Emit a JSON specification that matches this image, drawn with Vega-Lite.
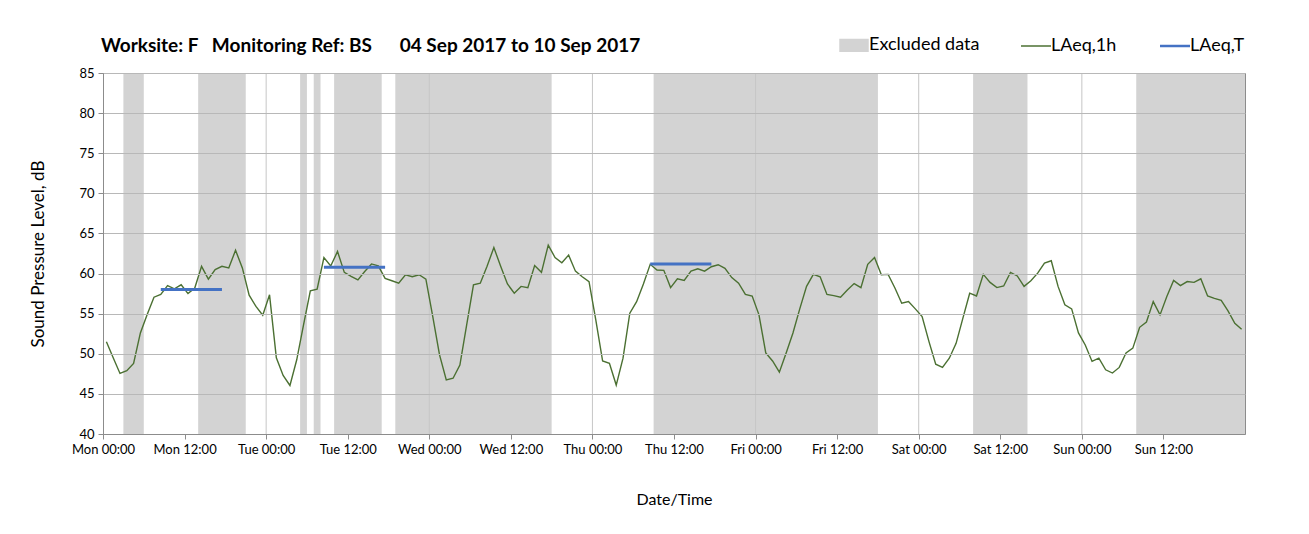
{
  "$schema": "https://vega.github.io/schema/vega-lite/v6.json",
  "width": 1142,
  "height": 361,
  "autosize": {"type": "none"},
  "padding": {"left": 103, "top": 73, "right": 64, "bottom": 100},
  "background": "white",
  "config": {
    "font": "Lato",
    "view": {"stroke": "#8c8c8c", "strokeWidth": 1},
    "legend": {
      "orient": "none",
      "legendX": 742,
      "legendY": -37,
      "direction": "horizontal",
      "symbolSize": 900,
      "labelFontSize": 18,
      "labelColor": "#000000",
      "columnPadding": 38,
      "labelOffset": 6
    }
  },
  "title": {
    "text": "Worksite: F\u00a0\u00a0\u00a0Monitoring Ref: BS\u00a0\u00a0\u00a0\u00a0\u00a0\u00a004 Sep 2017 to 10 Sep 2017",
    "anchor": "start",
    "fontSize": 19,
    "fontWeight": "bold",
    "color": "#000000",
    "offset": 0,
    "dx": 71,
    "dy": 20
  },
  "datasets": {
    "excluded": [
      {"start": "2017-09-04T03:00", "end": "2017-09-04T06:00"},
      {"start": "2017-09-04T14:00", "end": "2017-09-04T21:00"},
      {"start": "2017-09-05T05:00", "end": "2017-09-05T06:00"},
      {"start": "2017-09-05T07:00", "end": "2017-09-05T08:00"},
      {"start": "2017-09-05T10:00", "end": "2017-09-05T17:00"},
      {"start": "2017-09-05T19:00", "end": "2017-09-06T18:00"},
      {"start": "2017-09-07T09:00", "end": "2017-09-08T18:00"},
      {"start": "2017-09-09T08:00", "end": "2017-09-09T16:00"},
      {"start": "2017-09-10T08:00", "end": "2017-09-11T00:00"}
    ],
    "days": [
      {"d": "2017-09-05T00:00"},
      {"d": "2017-09-06T00:00"},
      {"d": "2017-09-07T00:00"},
      {"d": "2017-09-08T00:00"},
      {"d": "2017-09-09T00:00"},
      {"d": "2017-09-10T00:00"}
    ],
    "laeqT": [
      {"start": "2017-09-04T08:30", "end": "2017-09-04T17:30", "v": 58.0},
      {"start": "2017-09-05T08:30", "end": "2017-09-05T17:30", "v": 60.8},
      {"start": "2017-09-07T08:30", "end": "2017-09-07T17:30", "v": 61.2}
    ],
    "laeq1h": [
      {"t": "2017-09-04T00:30", "v": 51.5},
      {"t": "2017-09-04T01:30", "v": 49.5},
      {"t": "2017-09-04T02:30", "v": 47.55},
      {"t": "2017-09-04T03:30", "v": 47.9},
      {"t": "2017-09-04T04:30", "v": 48.8},
      {"t": "2017-09-04T05:30", "v": 52.6},
      {"t": "2017-09-04T06:30", "v": 54.9},
      {"t": "2017-09-04T07:30", "v": 57.05},
      {"t": "2017-09-04T08:30", "v": 57.4},
      {"t": "2017-09-04T09:30", "v": 58.5},
      {"t": "2017-09-04T10:30", "v": 58.1},
      {"t": "2017-09-04T11:30", "v": 58.6},
      {"t": "2017-09-04T12:30", "v": 57.5},
      {"t": "2017-09-04T13:30", "v": 58.2},
      {"t": "2017-09-04T14:30", "v": 60.9},
      {"t": "2017-09-04T15:30", "v": 59.3},
      {"t": "2017-09-04T16:30", "v": 60.5},
      {"t": "2017-09-04T17:30", "v": 60.9},
      {"t": "2017-09-04T18:30", "v": 60.7},
      {"t": "2017-09-04T19:30", "v": 62.9},
      {"t": "2017-09-04T20:30", "v": 60.7},
      {"t": "2017-09-04T21:30", "v": 57.3},
      {"t": "2017-09-04T22:30", "v": 55.9},
      {"t": "2017-09-04T23:30", "v": 54.8},
      {"t": "2017-09-05T00:30", "v": 57.35},
      {"t": "2017-09-05T01:30", "v": 49.5},
      {"t": "2017-09-05T02:30", "v": 47.3},
      {"t": "2017-09-05T03:30", "v": 46.05},
      {"t": "2017-09-05T04:30", "v": 49.25},
      {"t": "2017-09-05T05:30", "v": 53.6},
      {"t": "2017-09-05T06:30", "v": 57.85},
      {"t": "2017-09-05T07:30", "v": 58.05},
      {"t": "2017-09-05T08:30", "v": 62.0},
      {"t": "2017-09-05T09:30", "v": 60.95},
      {"t": "2017-09-05T10:30", "v": 62.75},
      {"t": "2017-09-05T11:30", "v": 60.15},
      {"t": "2017-09-05T12:30", "v": 59.65},
      {"t": "2017-09-05T13:30", "v": 59.2},
      {"t": "2017-09-05T14:30", "v": 60.25},
      {"t": "2017-09-05T15:30", "v": 61.2},
      {"t": "2017-09-05T16:30", "v": 60.95},
      {"t": "2017-09-05T17:30", "v": 59.4},
      {"t": "2017-09-05T18:30", "v": 59.1},
      {"t": "2017-09-05T19:30", "v": 58.8},
      {"t": "2017-09-05T20:30", "v": 59.85},
      {"t": "2017-09-05T21:30", "v": 59.6},
      {"t": "2017-09-05T22:30", "v": 59.85},
      {"t": "2017-09-05T23:30", "v": 59.3},
      {"t": "2017-09-06T00:30", "v": 54.7},
      {"t": "2017-09-06T01:30", "v": 49.9},
      {"t": "2017-09-06T02:30", "v": 46.75},
      {"t": "2017-09-06T03:30", "v": 46.95},
      {"t": "2017-09-06T04:30", "v": 48.6},
      {"t": "2017-09-06T05:30", "v": 53.6},
      {"t": "2017-09-06T06:30", "v": 58.6},
      {"t": "2017-09-06T07:30", "v": 58.8},
      {"t": "2017-09-06T08:30", "v": 60.9},
      {"t": "2017-09-06T09:30", "v": 63.25},
      {"t": "2017-09-06T10:30", "v": 60.9},
      {"t": "2017-09-06T11:30", "v": 58.7},
      {"t": "2017-09-06T12:30", "v": 57.55},
      {"t": "2017-09-06T13:30", "v": 58.4},
      {"t": "2017-09-06T14:30", "v": 58.25},
      {"t": "2017-09-06T15:30", "v": 61.0},
      {"t": "2017-09-06T16:30", "v": 60.15},
      {"t": "2017-09-06T17:30", "v": 63.55},
      {"t": "2017-09-06T18:30", "v": 62.0},
      {"t": "2017-09-06T19:30", "v": 61.35},
      {"t": "2017-09-06T20:30", "v": 62.3},
      {"t": "2017-09-06T21:30", "v": 60.3},
      {"t": "2017-09-06T22:30", "v": 59.6},
      {"t": "2017-09-06T23:30", "v": 59.0},
      {"t": "2017-09-07T00:30", "v": 54.2},
      {"t": "2017-09-07T01:30", "v": 49.1},
      {"t": "2017-09-07T02:30", "v": 48.8},
      {"t": "2017-09-07T03:30", "v": 46.1},
      {"t": "2017-09-07T04:30", "v": 49.45},
      {"t": "2017-09-07T05:30", "v": 55.05},
      {"t": "2017-09-07T06:30", "v": 56.5},
      {"t": "2017-09-07T07:30", "v": 58.7},
      {"t": "2017-09-07T08:30", "v": 61.15},
      {"t": "2017-09-07T09:30", "v": 60.45},
      {"t": "2017-09-07T10:30", "v": 60.4},
      {"t": "2017-09-07T11:30", "v": 58.25},
      {"t": "2017-09-07T12:30", "v": 59.35},
      {"t": "2017-09-07T13:30", "v": 59.15},
      {"t": "2017-09-07T14:30", "v": 60.3},
      {"t": "2017-09-07T15:30", "v": 60.6},
      {"t": "2017-09-07T16:30", "v": 60.3},
      {"t": "2017-09-07T17:30", "v": 60.85},
      {"t": "2017-09-07T18:30", "v": 61.1},
      {"t": "2017-09-07T19:30", "v": 60.65},
      {"t": "2017-09-07T20:30", "v": 59.5},
      {"t": "2017-09-07T21:30", "v": 58.8},
      {"t": "2017-09-07T22:30", "v": 57.4},
      {"t": "2017-09-07T23:30", "v": 57.2},
      {"t": "2017-09-08T00:30", "v": 54.85},
      {"t": "2017-09-08T01:30", "v": 50.1},
      {"t": "2017-09-08T02:30", "v": 49.1},
      {"t": "2017-09-08T03:30", "v": 47.7},
      {"t": "2017-09-08T04:30", "v": 50.1},
      {"t": "2017-09-08T05:30", "v": 52.6},
      {"t": "2017-09-08T06:30", "v": 55.6},
      {"t": "2017-09-08T07:30", "v": 58.4},
      {"t": "2017-09-08T08:30", "v": 59.9},
      {"t": "2017-09-08T09:30", "v": 59.6},
      {"t": "2017-09-08T10:30", "v": 57.4},
      {"t": "2017-09-08T11:30", "v": 57.25},
      {"t": "2017-09-08T12:30", "v": 57.05},
      {"t": "2017-09-08T13:30", "v": 57.95},
      {"t": "2017-09-08T14:30", "v": 58.75},
      {"t": "2017-09-08T15:30", "v": 58.25},
      {"t": "2017-09-08T16:30", "v": 61.15},
      {"t": "2017-09-08T17:30", "v": 62.0},
      {"t": "2017-09-08T18:30", "v": 59.85},
      {"t": "2017-09-08T19:30", "v": 59.9},
      {"t": "2017-09-08T20:30", "v": 58.2},
      {"t": "2017-09-08T21:30", "v": 56.3},
      {"t": "2017-09-08T22:30", "v": 56.5},
      {"t": "2017-09-08T23:30", "v": 55.6},
      {"t": "2017-09-09T00:30", "v": 54.65},
      {"t": "2017-09-09T01:30", "v": 51.55},
      {"t": "2017-09-09T02:30", "v": 48.7},
      {"t": "2017-09-09T03:30", "v": 48.3},
      {"t": "2017-09-09T04:30", "v": 49.45},
      {"t": "2017-09-09T05:30", "v": 51.3},
      {"t": "2017-09-09T06:30", "v": 54.45},
      {"t": "2017-09-09T07:30", "v": 57.55},
      {"t": "2017-09-09T08:30", "v": 57.2},
      {"t": "2017-09-09T09:30", "v": 59.9},
      {"t": "2017-09-09T10:30", "v": 58.9},
      {"t": "2017-09-09T11:30", "v": 58.25},
      {"t": "2017-09-09T12:30", "v": 58.45},
      {"t": "2017-09-09T13:30", "v": 60.15},
      {"t": "2017-09-09T14:30", "v": 59.7},
      {"t": "2017-09-09T15:30", "v": 58.4},
      {"t": "2017-09-09T16:30", "v": 59.1},
      {"t": "2017-09-09T17:30", "v": 60.05},
      {"t": "2017-09-09T18:30", "v": 61.3},
      {"t": "2017-09-09T19:30", "v": 61.6},
      {"t": "2017-09-09T20:30", "v": 58.4},
      {"t": "2017-09-09T21:30", "v": 56.1},
      {"t": "2017-09-09T22:30", "v": 55.6},
      {"t": "2017-09-09T23:30", "v": 52.6},
      {"t": "2017-09-10T00:30", "v": 51.1},
      {"t": "2017-09-10T01:30", "v": 49.05},
      {"t": "2017-09-10T02:30", "v": 49.45},
      {"t": "2017-09-10T03:30", "v": 48.0},
      {"t": "2017-09-10T04:30", "v": 47.6},
      {"t": "2017-09-10T05:30", "v": 48.3},
      {"t": "2017-09-10T06:30", "v": 50.1},
      {"t": "2017-09-10T07:30", "v": 50.7},
      {"t": "2017-09-10T08:30", "v": 53.3},
      {"t": "2017-09-10T09:30", "v": 53.95},
      {"t": "2017-09-10T10:30", "v": 56.5},
      {"t": "2017-09-10T11:30", "v": 54.85},
      {"t": "2017-09-10T12:30", "v": 57.15},
      {"t": "2017-09-10T13:30", "v": 59.15},
      {"t": "2017-09-10T14:30", "v": 58.5},
      {"t": "2017-09-10T15:30", "v": 59.0},
      {"t": "2017-09-10T16:30", "v": 58.9},
      {"t": "2017-09-10T17:30", "v": 59.35},
      {"t": "2017-09-10T18:30", "v": 57.2},
      {"t": "2017-09-10T19:30", "v": 56.9},
      {"t": "2017-09-10T20:30", "v": 56.65},
      {"t": "2017-09-10T21:30", "v": 55.35},
      {"t": "2017-09-10T22:30", "v": 53.8},
      {"t": "2017-09-10T23:30", "v": 53.05}
    ]
  },
  "layer": [
    {
      "data": {"name": "excluded"},
      "mark": {"type": "rect"},
      "encoding": {
        "x": {
          "field": "start",
          "type": "temporal",
          "scale": {"domain": [{"year": 2017, "month": 9, "date": 4, "hours": 0}, {"year": 2017, "month": 9, "date": 11, "hours": 0}]},
          "axis": {
            "title": "Date/Time",
            "values": [
              {"year": 2017, "month": 9, "date": 4, "hours": 0},
              {"year": 2017, "month": 9, "date": 4, "hours": 12},
              {"year": 2017, "month": 9, "date": 5, "hours": 0},
              {"year": 2017, "month": 9, "date": 5, "hours": 12},
              {"year": 2017, "month": 9, "date": 6, "hours": 0},
              {"year": 2017, "month": 9, "date": 6, "hours": 12},
              {"year": 2017, "month": 9, "date": 7, "hours": 0},
              {"year": 2017, "month": 9, "date": 7, "hours": 12},
              {"year": 2017, "month": 9, "date": 8, "hours": 0},
              {"year": 2017, "month": 9, "date": 8, "hours": 12},
              {"year": 2017, "month": 9, "date": 9, "hours": 0},
              {"year": 2017, "month": 9, "date": 9, "hours": 12},
              {"year": 2017, "month": 9, "date": 10, "hours": 0},
              {"year": 2017, "month": 9, "date": 10, "hours": 12}
            ],
            "format": "%a %H:%M",
            "labelOverlap": false,
            "labelFlush": false,
            "grid": false,
            "domainColor": "#8c8c8c",
            "tickColor": "#8c8c8c",
            "tickSize": 5,
            "labelFontSize": 13,
            "labelColor": "#000000",
            "labelPadding": 4,
            "titleFontSize": 16,
            "titleFontWeight": "normal",
            "titleColor": "#000000",
            "titlePadding": 35,
            "zindex": 1
          }
        },
        "x2": {"field": "end"},
        "color": {
          "datum": "Excluded data",
          "scale": {"domain": ["Excluded data", "LAeq,1h", "LAeq,T"], "range": ["#d3d3d3", "#4b7032", "#4472c4"]},
          "legend": {
            "title": null,
            "encode": {
              "symbols": {
                "update": {
                  "shape": {"signal": "datum.value === 'Excluded data' ? 'M-0.9,-0.36H0.9V0.36H-0.9Z' : 'stroke'"},
                  "fill": {"signal": "datum.value === 'Excluded data' ? '#d3d3d3' : 'transparent'"},
                  "stroke": {"signal": "datum.value === 'Excluded data' ? 'transparent' : (datum.value === 'LAeq,1h' ? '#4b7032' : '#4472c4')"},
                  "strokeWidth": {"signal": "datum.value === 'LAeq,1h' ? 1.5 : 2.5"},
                  "opacity": {"value": 1}
                }
              }
            }
          }
        }
      }
    },
    {
      "data": {"name": "days"},
      "mark": {"type": "rule", "color": "#c6c6c6", "strokeWidth": 1},
      "encoding": {
        "x": {"field": "d", "type": "temporal"}
      }
    },
    {
      "data": {"name": "laeq1h"},
      "mark": {"type": "line", "strokeWidth": 1.4},
      "encoding": {
        "x": {"field": "t", "type": "temporal"},
        "y": {
          "field": "v",
          "type": "quantitative",
          "scale": {"domain": [40, 85], "nice": false, "zero": false},
          "axis": {
            "title": "Sound Pressure Level, dB",
            "values": [40, 45, 50, 55, 60, 65, 70, 75, 80, 85],
            "grid": true,
            "gridColor": "#b8b8b8",
            "domainColor": "#8c8c8c",
            "tickColor": "#8c8c8c",
            "tickSize": 5,
            "labelFontSize": 13,
            "labelColor": "#000000",
            "labelPadding": 4,
            "titleFontSize": 17,
            "titleFontWeight": "normal",
            "titleColor": "#000000",
            "titlePadding": 31,
            "zindex": 1
          }
        },
        "color": {"datum": "LAeq,1h"}
      }
    },
    {
      "data": {"name": "laeqT"},
      "mark": {"type": "rule", "strokeWidth": 3},
      "encoding": {
        "x": {"field": "start", "type": "temporal"},
        "x2": {"field": "end"},
        "y": {"field": "v", "type": "quantitative"},
        "color": {"datum": "LAeq,T"}
      }
    }
  ]
}
